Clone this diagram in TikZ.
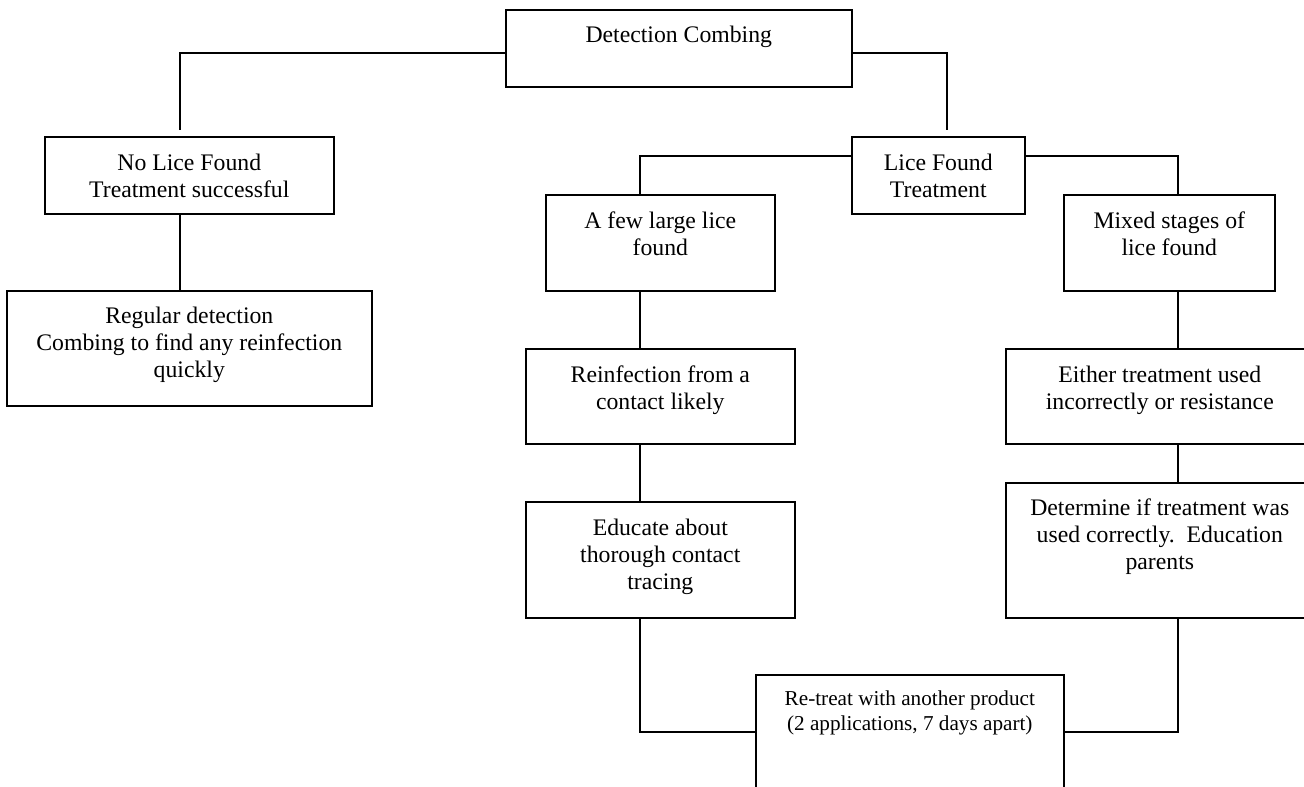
\documentclass[tikz,border=0pt]{standalone}
\usepackage{fontspec}
\setmainfont{Liberation Serif}
\newlength\pxu
\setlength\pxu{0.75pt}
% box content: width, height, first-baseline offset (all px), text
\newcommand\boxtext[4]{\parbox[t][#2\pxu][t]{#1\pxu}{\centering\rule{0pt}{#3\pxu}#4}}
\tikzset{
  flowbox/.style={draw=black, line width=1.2pt, inner sep=0pt, anchor=north west, fill=white,
    font=\fontsize{17.8}{20.25}\selectfont},
  smallbox/.style={flowbox, font=\fontsize{15.9}{18.75}\selectfont},
  link/.style={draw=black, line width=1.2pt}
}
\begin{document}
\begin{tikzpicture}[x=0.75pt,y=-0.75pt]
\useasboundingbox (0,0) rectangle (1304,787);
\clip (0,0) rectangle (1304,787);
% boxes
\node[flowbox] (D)   at (505,9)   {\boxtext{346}{77}{33}{Detection Combing}};
\node[flowbox] (N)   at (44,136)  {\boxtext{289}{77}{34}{No Lice Found\\Treatment successful}};
\node[flowbox] (R)   at (6,290)   {\boxtext{365}{115}{33}{Regular detection\\Combing to find any reinfection\\quickly}};
\node[flowbox] (L)   at (851,136) {\boxtext{173}{77}{34}{Lice Found\\Treatment}};
\node[flowbox] (A)   at (545,194) {\boxtext{229}{96}{34}{A few large lice\\found}};
\node[flowbox] (M)   at (1063,194){\boxtext{211}{96}{34}{Mixed stages of\\lice found}};
\node[flowbox] (RI)  at (525,348) {\boxtext{269}{95}{34}{Reinfection from a\\contact likely}};
\node[flowbox] (E)   at (1005,348){\boxtext{308}{95}{34}{Either treatment used\\incorrectly or resistance}};
\node[flowbox] (Ed)  at (525,501) {\boxtext{269}{116}{34}{Educate about\\thorough contact\\tracing}};
\node[flowbox] (Det) at (1005,482){\boxtext{308}{135}{33}{Determine if treatment was\\used correctly.\ \ Education\\parents}};
\node[smallbox] (Re) at (755,674) {\boxtext{308}{160}{31}{Re-treat with another product\\(2 applications, 7 days apart)}};
% free ends of connectors
\coordinate (nTop) at (180,130);
\coordinate (lTop) at (947,130);
% connectors
\draw[link] (D.west |- 0,53) -| (nTop);
\draw[link] (D.east |- 0,53) -| (lTop);
\draw[link] (180,0 |- N.south) -- (180,0 |- R.north);
\draw[link] (L.west |- 0,156) -| (640,0 |- A.north);
\draw[link] (L.east |- 0,156) -| (1178,0 |- M.north);
\draw[link] (640,0 |- A.south) -- (640,0 |- RI.north);
\draw[link] (1178,0 |- M.south) -- (1178,0 |- E.north);
\draw[link] (640,0 |- RI.south) -- (640,0 |- Ed.north);
\draw[link] (1178,0 |- E.south) -- (1178,0 |- Det.north);
\draw[link] (640,0 |- Ed.south) |- (Re.west |- 0,732);
\draw[link] (1178,0 |- Det.south) |- (Re.east |- 0,732);
\end{tikzpicture}
\end{document}
